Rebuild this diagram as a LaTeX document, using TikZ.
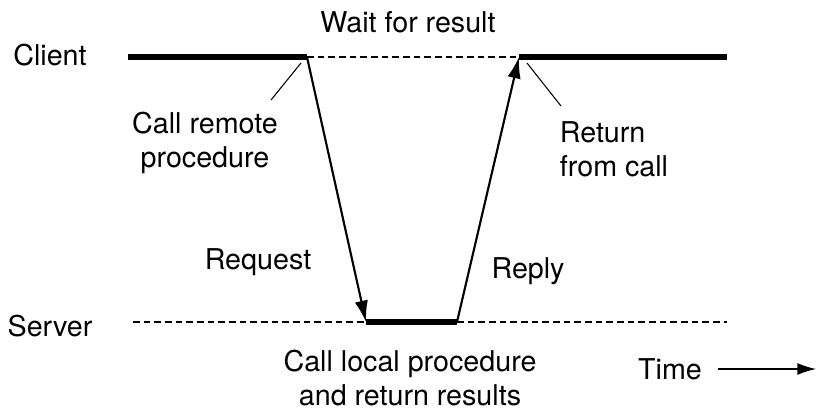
\documentclass[tikz,border=0pt]{standalone}
\usepackage{fontspec}
\setmainfont{TeX Gyre Heros}
\usetikzlibrary{arrows.meta}
\begin{document}
\begin{tikzpicture}[x=0.75pt,y=-0.75pt,
  lbl/.style={font=\fontsize{21.5}{25.5}\selectfont,inner sep=0pt,align=center},
  thickl/.style={line width=4.5pt},
  dashl/.style={line width=0.8pt,dash pattern=on 5pt off 3pt},
  arr/.style={line width=1.6pt,-{Latex[length=16pt,width=10pt]}},
  lead/.style={line width=0.8pt}]
\useasboundingbox (0,0) rectangle (829,417);
\coordinate (c1) at (128,57); \coordinate (c2) at (307,57);
\coordinate (c3) at (519,57); \coordinate (c4) at (727,57);
\coordinate (s0) at (133,322); \coordinate (s1) at (366,322);
\coordinate (s2) at (457,322); \coordinate (s3) at (727,322);
\draw[thickl] (c1) -- (c2);
\draw[dashl] (c2) -- (c3);
\draw[thickl] (c3) -- (c4);
\draw[dashl] (s0) -- (s1);
\draw[thickl] (s1) -- (s2);
\draw[dashl] (s2) -- (s3);
\draw[arr] (c2) -- (s1);
\draw[arr] (s2) -- (c3);
\node[lbl] (client) at (50,55) {Client};
\node[lbl] (server) at (50,326) {Server};
\node[lbl] (wait) at (408,22) {Wait for result};
\node[lbl] (crp) at (205,143) {Call remote\\procedure};
\node[lbl,align=left] (rfc) at (614,149) {Return\\from call};
\node[lbl] (req) at (258,262) {Request};
\node[lbl] (rep) at (528,271) {Reply};
\node[lbl] (clp) at (410,378) {Call local procedure\\and return results};
\node[lbl] (time) at (670,369) {Time};
\coordinate (l1a) at (301,63); \coordinate (l1b) at (271,100);
\coordinate (l2a) at (527,63); \coordinate (l2b) at (561,106);
\draw[lead] (l1a) -- (l1b);
\draw[lead] (l2a) -- (l2b);
\coordinate (t1) at (718,369); \coordinate (t2) at (816,369);
\draw[line width=1pt,-{Latex[length=14pt,width=9pt]}] (t1) -- (t2);
\end{tikzpicture}
\end{document}
